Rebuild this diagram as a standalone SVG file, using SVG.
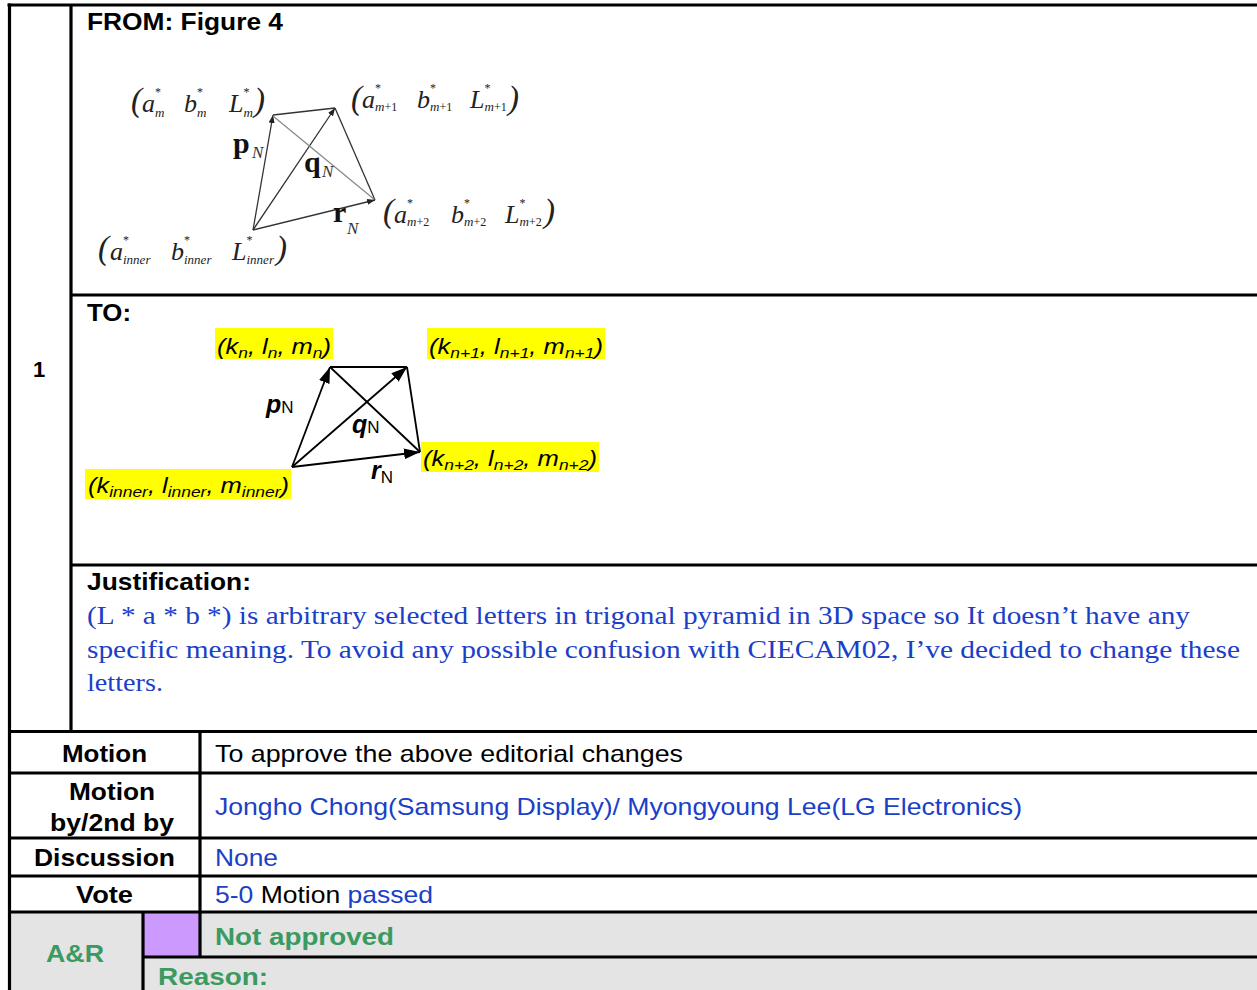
<svg xmlns="http://www.w3.org/2000/svg" width="1257" height="990" viewBox="0 0 1257 990">
<style>
.sb{font-family:"Liberation Sans",Arial,sans-serif;font-weight:bold;font-size:24px;fill:#000}
.sr{font-family:"Liberation Sans",Arial,sans-serif;font-size:24px;fill:#000}
.blue{fill:#1a40c8}
.green{fill:#3a9a60}
.ser{font-family:"Liberation Serif","Times New Roman",serif;font-size:26px;fill:#1a40c8}
.mi{font-family:"Liberation Serif","Times New Roman",serif;font-style:italic;font-size:26px;fill:#222}
.ms{font-style:italic;font-size:13px}
.st{font-style:normal;font-size:12px}
.par{font-family:"Liberation Serif","Times New Roman",serif;font-size:33px;fill:#222}
.vb{font-family:"Liberation Serif","Times New Roman",serif;font-weight:bold;font-size:30px;fill:#111}
.vn{font-weight:normal;font-style:italic;font-size:17px;fill:#333}
.ai{font-family:"Liberation Sans",Arial,sans-serif;font-style:italic;font-size:22px;fill:#000}
.hl{fill:#ffff00}
.grid{stroke:#000;stroke-width:3.2;fill:none}
.f1{stroke:#333;stroke-width:1.3;fill:none}
.f1g{stroke:#8a8a8a;stroke-width:1.3;fill:none}
.t1{stroke:#000;stroke-width:1.8;fill:none}
</style>
<defs>
<marker id="ah1" markerUnits="userSpaceOnUse" markerWidth="10" markerHeight="8" refX="8" refY="3" orient="auto"><path d="M0,0 L8,3 L0,6 z" fill="#222"/></marker>
<marker id="ah2" markerUnits="userSpaceOnUse" markerWidth="18" markerHeight="14" refX="16" refY="5.5" orient="auto"><path d="M0,0 L16,5.5 L0,11 z" fill="#000"/></marker>
</defs>
<rect width="1257" height="990" fill="#fff"/>

<g id="bg">
<rect x="9" y="912" width="1248" height="78" fill="#e4e4e4"/>
<rect x="143" y="912" width="57" height="45" fill="#cc99ff"/>
</g>

<g id="grid" class="grid">
<path d="M7.5 5 H1257"/>
<path d="M9.5 3.5 V990"/>
<path d="M71 5 V731"/>
<path d="M71 295 H1257"/>
<path d="M71 565 H1257"/>
<path d="M8 731.5 H1257"/>
<path d="M8 773 H1257"/>
<path d="M8 838 H1257"/>
<path d="M8 876 H1257"/>
<path d="M8 912 H1257"/>
<path d="M200 731 V957"/>
<path d="M143 912 V990"/>
<path d="M143 957 H1257"/>
</g>

<g id="row-number">
<text class="sb" x="39" y="377" text-anchor="middle" style="font-size:22px">1</text>
</g>

<g id="from-section">
<text class="sb" x="87" y="30" textLength="196" lengthAdjust="spacingAndGlyphs">FROM: Figure 4</text>
</g>

<g id="from-figure-connectors">
<line class="f1" x1="253" y1="230" x2="273" y2="115" marker-end="url(#ah1)"/>
<line class="f1" x1="273" y1="115" x2="335" y2="108"/>
<line class="f1" x1="253" y1="230" x2="335" y2="108" marker-end="url(#ah1)"/>
<line class="f1" x1="335" y1="108" x2="375" y2="200"/>
<line class="f1g" x1="273" y1="116" x2="375" y2="200"/>
<line class="f1" x1="253" y1="230" x2="375" y2="200" marker-end="url(#ah1)"/>
</g>

<g id="from-labels">
<text class="vb"><tspan x="233" y="153">p</tspan><tspan class="vn" x="252" y="158">N</tspan></text>
<text class="vb"><tspan x="304" y="172">q</tspan><tspan class="vn" x="322" y="177">N</tspan></text>
<text class="vb"><tspan x="333" y="222">r</tspan><tspan class="vn" x="347" y="234">N</tspan></text>
</g>

<g id="node-m">
<text class="mi"><tspan class="par" x="131" y="111">(</tspan><tspan x="142" y="112">a</tspan><tspan class="st" x="155" y="96">*</tspan><tspan class="ms" x="155" y="117">m</tspan><tspan x="184" y="112">b</tspan><tspan class="st" x="197" y="96">*</tspan><tspan class="ms" x="197" y="117">m</tspan><tspan x="229" y="112">L</tspan><tspan class="st" x="243.5" y="96">*</tspan><tspan class="ms" x="243.5" y="117">m</tspan><tspan class="par" x="254" y="111">)</tspan></text>
</g>

<g id="node-m1">
<text class="mi"><tspan class="par" x="351" y="109">(</tspan><tspan x="362" y="108">a</tspan><tspan class="st" x="375" y="92">*</tspan><tspan class="ms" x="375" y="111">m</tspan><tspan class="st">+1</tspan><tspan x="417" y="108">b</tspan><tspan class="st" x="430" y="92">*</tspan><tspan class="ms" x="430" y="111">m</tspan><tspan class="st">+1</tspan><tspan x="470" y="108">L</tspan><tspan class="st" x="484.5" y="92">*</tspan><tspan class="ms" x="484.5" y="111">m</tspan><tspan class="st">+1</tspan><tspan class="par" x="508" y="109">)</tspan></text>
</g>

<g id="node-m2">
<text class="mi"><tspan class="par" x="383" y="222">(</tspan><tspan x="394" y="223">a</tspan><tspan class="st" x="407" y="207">*</tspan><tspan class="ms" x="407" y="226">m</tspan><tspan class="st">+2</tspan><tspan x="451" y="223">b</tspan><tspan class="st" x="464" y="207">*</tspan><tspan class="ms" x="464" y="226">m</tspan><tspan class="st">+2</tspan><tspan x="505" y="223">L</tspan><tspan class="st" x="519.5" y="207">*</tspan><tspan class="ms" x="519.5" y="226">m</tspan><tspan class="st">+2</tspan><tspan class="par" x="544" y="222">)</tspan></text>
</g>

<g id="node-inner">
<text class="mi"><tspan class="par" x="98" y="259">(</tspan><tspan x="110" y="260">a</tspan><tspan class="st" x="123" y="244">*</tspan><tspan class="ms" x="123" y="264">inner</tspan><tspan x="171" y="260">b</tspan><tspan class="st" x="184" y="244">*</tspan><tspan class="ms" x="184" y="264">inner</tspan><tspan x="232" y="260">L</tspan><tspan class="st" x="246.5" y="244">*</tspan><tspan class="ms" x="246.5" y="264">inner</tspan><tspan class="par" x="276" y="259">)</tspan></text>
</g>

<g id="to-section">
<text class="sb" x="87" y="321" textLength="44" lengthAdjust="spacingAndGlyphs">TO:</text>
</g>

<g id="to-figure-connectors">
<line class="t1" x1="292" y1="467" x2="330" y2="367" marker-end="url(#ah2)"/>
<line class="t1" x1="330" y1="367" x2="407" y2="367"/>
<line class="t1" x1="292" y1="467" x2="407" y2="367" marker-end="url(#ah2)"/>
<line class="t1" x1="407" y1="367" x2="420" y2="452"/>
<line class="t1" x1="330" y1="367" x2="420" y2="452"/>
<line class="t1" x1="292" y1="467" x2="420" y2="452" marker-end="url(#ah2)"/>
</g>

<g id="to-vector-labels">
<text class="ai" x="266" y="413" style="font-size:25px"><tspan font-weight="bold">p</tspan><tspan font-size="17" font-style="normal">N</tspan></text>
<text class="ai" x="352" y="433" style="font-size:25px"><tspan font-weight="bold">q</tspan><tspan font-size="17" font-style="normal">N</tspan></text>
<text class="ai" x="371" y="479" style="font-size:25px"><tspan font-weight="bold">r</tspan><tspan font-size="17" font-style="normal" dy="4">N</tspan></text>
</g>

<g id="to-node-n">
<rect class="hl" x="215" y="328" width="118" height="31"/>
<text class="ai" x="217" y="354" textLength="114" lengthAdjust="spacingAndGlyphs">(k<tspan font-size="15" dy="4">n</tspan><tspan dy="-4">, l</tspan><tspan font-size="15" dy="4">n</tspan><tspan dy="-4">, m</tspan><tspan font-size="15" dy="4">n</tspan><tspan dy="-4">)</tspan></text>
</g>

<g id="to-node-n1">
<rect class="hl" x="427" y="328" width="178" height="31"/>
<text class="ai" x="429" y="354" textLength="174" lengthAdjust="spacingAndGlyphs">(k<tspan font-size="15" dy="4">n+1</tspan><tspan dy="-4">, l</tspan><tspan font-size="15" dy="4">n+1</tspan><tspan dy="-4">, m</tspan><tspan font-size="15" dy="4">n+1</tspan><tspan dy="-4">)</tspan></text>
</g>

<g id="to-node-n2">
<rect class="hl" x="421" y="442" width="178" height="30"/>
<text class="ai" x="423" y="466" textLength="174" lengthAdjust="spacingAndGlyphs">(k<tspan font-size="15" dy="4">n+2</tspan><tspan dy="-4">, l</tspan><tspan font-size="15" dy="4">n+2</tspan><tspan dy="-4">, m</tspan><tspan font-size="15" dy="4">n+2</tspan><tspan dy="-4">)</tspan></text>
</g>

<g id="to-node-inner">
<rect class="hl" x="85" y="469" width="206" height="30"/>
<text class="ai" x="88" y="493" textLength="201" lengthAdjust="spacingAndGlyphs">(k<tspan font-size="15" dy="4">inner</tspan><tspan dy="-4">, l</tspan><tspan font-size="15" dy="4">inner</tspan><tspan dy="-4">, m</tspan><tspan font-size="15" dy="4">inner</tspan><tspan dy="-4">)</tspan></text>
</g>

<g id="justification">
<text class="sb" x="87" y="590" textLength="164" lengthAdjust="spacingAndGlyphs">Justification:</text>
<text class="ser" x="87" y="624" textLength="1103" lengthAdjust="spacingAndGlyphs">(L * a * b *) is arbitrary selected letters in trigonal pyramid in 3D space so It doesn’t have any</text>
<text class="ser" x="87" y="658" textLength="1153" lengthAdjust="spacingAndGlyphs">specific meaning. To avoid any possible confusion with CIECAM02, I’ve decided to change these</text>
<text class="ser" x="87" y="691" textLength="76" lengthAdjust="spacingAndGlyphs">letters.</text>
</g>

<g id="row-motion">
<text class="sb" x="62" y="762" textLength="85" lengthAdjust="spacingAndGlyphs">Motion</text>
<text class="sr" x="215" y="762" textLength="468" lengthAdjust="spacingAndGlyphs">To approve the above editorial changes</text>
</g>

<g id="row-motionby">
<text class="sb" x="69" y="800" textLength="86" lengthAdjust="spacingAndGlyphs">Motion</text>
<text class="sb" x="50" y="831" textLength="124" lengthAdjust="spacingAndGlyphs">by/2nd by</text>
<text class="sr blue" x="215" y="815" textLength="807" lengthAdjust="spacingAndGlyphs">Jongho Chong(Samsung Display)/ Myongyoung Lee(LG Electronics)</text>
</g>

<g id="row-discussion">
<text class="sb" x="34" y="866" textLength="141" lengthAdjust="spacingAndGlyphs">Discussion</text>
<text class="sr blue" x="215" y="866" textLength="63" lengthAdjust="spacingAndGlyphs">None</text>
</g>

<g id="row-vote">
<text class="sb" x="76" y="903" textLength="57" lengthAdjust="spacingAndGlyphs">Vote</text>
<text class="sr" x="215" y="903" textLength="218" lengthAdjust="spacingAndGlyphs"><tspan class="blue">5-0</tspan> Motion <tspan class="blue">passed</tspan></text>
</g>

<g id="row-ar">
<text class="sb green" x="46" y="962" textLength="58" lengthAdjust="spacingAndGlyphs">A&amp;R</text>
<text class="sb green" x="215" y="945" textLength="179" lengthAdjust="spacingAndGlyphs">Not approved</text>
<text class="sb green" x="158" y="985" textLength="110" lengthAdjust="spacingAndGlyphs">Reason:</text>
</g>
</svg>
